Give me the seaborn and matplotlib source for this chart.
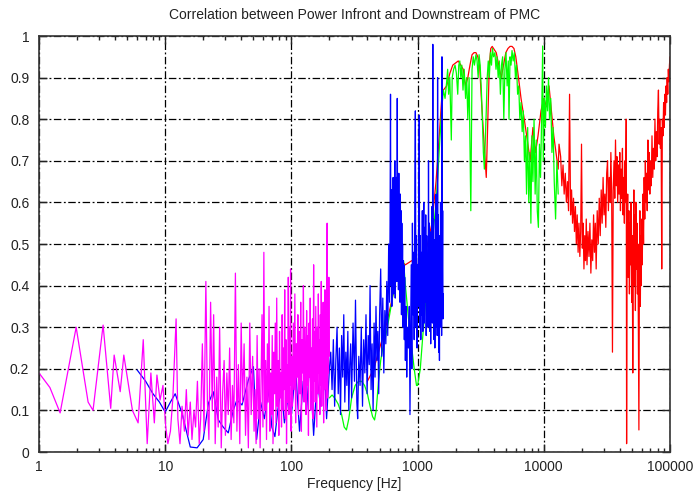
"""
Correlation between power in front of and downstream of the PMC,
gnuplot-like log-frequency plot redrawn with seaborn.
"""

import pandas as pd
import matplotlib.pyplot as plt
import matplotlib.ticker as mticker
import seaborn as sns

# ---- data (frequency in Hz, correlation) ----

magenta_f = [1.0, 1.22, 1.47, 1.97, 2.45, 2.68, 3.22, 3.7, 3.94, 4.4, 4.7, 5.5, 6.1, 6.7, 7.2, 7.7, 8.2, 8.6, 9.1, 9.6,
             10.1, 10.5, 11.0, 11.5, 12.2, 12.6, 13.1, 13.6, 14.2, 14.7, 15.2, 15.8, 16.3, 16.9, 17.4, 18.0, 18.6, 19.1,
             19.7, 20.3, 21.0, 21.6, 22.2, 22.9, 23.6, 24.2, 24.9, 25.6, 26.3, 27.0, 27.8, 28.5, 29.3, 30.0, 30.8, 31.6,
             32.4, 33.3, 34.1, 35.0, 36.0, 37.0, 38.0, 39.0, 40.0, 41.0, 42.2, 43.3, 44.4, 45.6, 46.8, 48.0, 49.3, 50.6,
             51.5, 52.5, 53.5, 54.5, 55.5, 56.5, 57.5, 58.5, 59.5, 60.5, 61.5, 62.5, 63.5, 64.5, 65.5, 66.5, 67.5, 68.5,
             69.5, 70.5, 71.5, 72.5, 73.5, 74.5, 75.5, 76.5, 77.5, 78.5, 79.5, 80.5, 81.5, 82.5, 83.5, 84.5, 85.5, 86.5,
             87.5, 88.5, 89.5, 90.5, 91.5, 92.5, 93.5, 94.5, 95.5, 96.5, 97.5, 98.5, 99.5,
             100.5, 102, 103.5, 105, 106.5, 108, 109.5, 111, 112.5, 114, 115.5, 117, 118.5, 120, 121.5, 123, 124.5, 126,
             127.5, 129, 130.5, 132, 133.5, 135, 136.5, 138, 139.5, 141, 142.5, 144, 145.5, 147, 148.5, 150, 151.5, 153,
             154.5, 156, 157.5, 159, 160.5, 162, 163.5, 165, 166.5, 168, 169.5, 171, 172.5, 174, 175.5, 177, 178.5, 180,
             181.5, 183, 184.5, 186, 187.5, 189, 190.5, 192, 193.5, 195, 196.5, 198, 199.5]
magenta_c = [0.19, 0.155, 0.094, 0.30, 0.12, 0.10, 0.305, 0.105, 0.233, 0.145, 0.233, 0.10, 0.07, 0.27, 0.02, 0.19, 0.07,
             0.185, 0.125, 0.16,
             0.06, 0.02, 0.05, 0.13, 0.32, 0.08, 0.02, 0.11, 0.05, 0.15, 0.04, 0.12, 0.03, 0.10, 0.06, 0.17, 0.02, 0.08,
             0.26, 0.05, 0.41, 0.12, 0.03, 0.36, 0.10, 0.33, 0.02, 0.18, 0.06, 0.30, 0.01, 0.14, 0.22, 0.04, 0.19, 0.09,
             0.25, 0.03, 0.16, 0.07, 0.43, 0.05, 0.21, 0.02, 0.31, 0.12, 0.26, 0.04, 0.18, 0.01, 0.31, 0.09, 0.23, 0.05,
             0.15, 0.02, 0.28, 0.08, 0.20, 0.01, 0.17, 0.33, 0.06, 0.48, 0.10, 0.22, 0.03, 0.26, 0.12, 0.35, 0.05, 0.19,
             0.09, 0.28, 0.02, 0.24, 0.14, 0.31, 0.07, 0.37, 0.11, 0.22, 0.04, 0.29, 0.13, 0.19, 0.06, 0.33, 0.10, 0.25,
             0.15, 0.39, 0.08, 0.27, 0.02, 0.21, 0.12, 0.42, 0.09, 0.30, 0.16, 0.44, 0.05,
             0.23, 0.11, 0.31, 0.15, 0.38, 0.07, 0.26, 0.18, 0.33, 0.09, 0.29, 0.14, 0.36, 0.05, 0.27, 0.19, 0.40, 0.12,
             0.30, 0.21, 0.09, 0.34, 0.16, 0.28, 0.04, 0.31, 0.18, 0.37, 0.10, 0.25, 0.15, 0.32, 0.08, 0.45, 0.17, 0.29,
             0.12, 0.35, 0.20, 0.06, 0.30, 0.14, 0.38, 0.19, 0.27, 0.09, 0.33, 0.16, 0.41, 0.11, 0.28, 0.21, 0.36, 0.07,
             0.30, 0.15, 0.39, 0.18, 0.26, 0.10, 0.34, 0.55, 0.13, 0.31, 0.19, 0.42, 0.23]

blue_f = [6.0, 7.0, 8.0, 9.0, 10.0, 11.0, 12.0, 13.6, 15.8, 17.9, 20.0, 22.0, 24.0, 26.4, 28.8, 31.6, 34.6, 37.0, 40.6,
          45.6, 50.0, 53.0, 57, 61, 66, 70, 74, 78, 83, 88, 94, 100, 108, 116, 124, 132, 140, 150, 160, 170, 180, 190,
          200, 205, 210, 215, 220, 225, 230, 235, 240, 245, 250, 255, 260, 265, 270, 275, 280, 285, 290, 295, 300, 308,
          316, 322, 330, 335, 342, 350, 358, 366, 374, 382, 390, 398, 406, 414, 420, 428, 436, 444, 452, 460, 468, 476,
          484, 492, 500, 510, 520, 530, 540, 550, 560, 570, 580, 590,
          600, 605, 610, 615, 620, 625, 630, 635, 640, 645, 650, 655, 660, 665, 670, 675, 680, 685, 690, 695,
          700, 705, 710, 715, 720, 725, 730, 735, 740, 745, 750, 755, 760, 765, 770, 775, 780, 785, 790, 795, 800,
          810, 820, 830, 845, 860, 870, 880, 890, 900, 910, 920, 930, 940, 950, 960, 970, 980, 990,
          1000, 1010, 1020, 1030, 1040, 1050, 1060, 1070, 1080, 1090, 1100, 1110, 1120, 1130, 1140, 1150, 1160, 1170,
          1180, 1190, 1200, 1210, 1220, 1230, 1240, 1250, 1260, 1270, 1280, 1290, 1300, 1310, 1320, 1330, 1340, 1350,
          1360, 1370, 1380, 1390, 1400, 1410, 1420, 1430, 1440, 1450, 1460, 1470, 1480, 1490, 1500, 1510, 1520, 1530,
          1540, 1550, 1560, 1570, 1580, 1590, 1600]
blue_c = [0.197, 0.17, 0.14, 0.12, 0.096, 0.12, 0.14, 0.093, 0.012, 0.01, 0.03, 0.117, 0.145, 0.077, 0.06, 0.046, 0.10,
          0.125, 0.113, 0.173, 0.205, 0.03, 0.12, 0.08, 0.15, 0.06, 0.037, 0.10, 0.16, 0.07, 0.13, 0.09, 0.20, 0.05,
          0.17, 0.10, 0.22, 0.04, 0.18, 0.11, 0.25, 0.08, 0.20,
          0.24, 0.15, 0.27, 0.11, 0.22, 0.30, 0.14, 0.25, 0.09, 0.28, 0.18, 0.33, 0.12, 0.24, 0.16, 0.29, 0.10, 0.21,
          0.26, 0.13, 0.31, 0.17, 0.365, 0.12, 0.08, 0.23, 0.16, 0.30, 0.11, 0.27, 0.19, 0.33, 0.14, 0.28, 0.21, 0.40,
          0.15, 0.26, 0.10, 0.31, 0.18, 0.35, 0.22, 0.29, 0.14, 0.33,
          0.44, 0.23, 0.37, 0.19, 0.34, 0.26, 0.41, 0.28, 0.50,
          0.36, 0.55, 0.86, 0.40, 0.63, 0.35, 0.58, 0.42, 0.66, 0.38, 0.60, 0.45, 0.70, 0.37, 0.62, 0.48, 0.66, 0.41,
          0.85, 0.46, 0.64, 0.39, 0.67, 0.43, 0.60, 0.36, 0.62, 0.44, 0.58, 0.33, 0.55, 0.40, 0.50, 0.30, 0.46, 0.34,
          0.45, 0.27, 0.42, 0.30, 0.22,
          0.35, 0.18, 0.30, 0.25, 0.35, 0.09, 0.28, 0.45, 0.20, 0.55, 0.33, 0.48, 0.27, 0.60, 0.82, 0.30, 0.52, 0.25,
          0.45, 0.35, 0.55, 0.81, 0.30, 0.52, 0.27, 0.48, 0.33, 0.58, 0.29, 0.50, 0.60, 0.31, 0.54, 0.36, 0.57, 0.28,
          0.52, 0.34, 0.47, 0.30, 0.70, 0.36, 0.55, 0.29, 0.50, 0.26, 0.53, 0.38, 0.59, 0.31, 0.98, 0.33, 0.56, 0.27,
          0.51, 0.25, 0.48, 0.36, 0.62, 0.30, 0.55, 0.28, 0.90, 0.40, 0.57, 0.24, 0.52, 0.22, 0.50, 0.35, 0.60, 0.30,
          0.56, 0.28, 0.95, 0.42, 0.58, 0.32, 0.38]

green_f = [200, 210, 220, 235, 250, 262, 273, 285, 300, 320, 340, 360, 380, 400, 420, 440, 456, 470, 490, 510, 530, 560,
           600, 640, 680, 720, 774, 800, 830, 860, 900, 940, 980, 1000, 1050, 1100, 1150, 1200, 1250, 1300, 1350, 1400,
           1450, 1500, 1550, 1600, 1650, 1700, 1730, 1760, 1800, 1850, 1880, 1930, 1980, 2030, 2080, 2120, 2160, 2200,
           2240, 2290, 2340, 2400, 2450, 2500, 2560, 2640, 2700, 2760, 2820, 2900, 2960, 3020, 3070, 3130, 3200, 3260,
           3320, 3380, 3440, 3500, 3560, 3630, 3700, 3780, 3850, 3920, 4000, 4100, 4180, 4260, 4350, 4440, 4530, 4620,
           4720, 4820, 4920, 5020, 5120, 5230, 5300, 5400, 5500, 5600, 5720, 5840, 5960, 6080, 6200, 6330, 6460, 6600,
           6740, 6880, 7020, 7160, 7300, 7450, 7600, 7750, 7900, 8050, 8200, 8370, 8540, 8710, 8880, 9060, 9240, 9420,
           9610, 9800, 9900, 10100, 10300, 10500, 10700, 10900, 11100, 11350, 11600, 11850, 12100, 12400, 12700, 13000]
green_c = [0.13, 0.137, 0.13, 0.115, 0.09, 0.06, 0.053, 0.08, 0.13, 0.16, 0.17, 0.17, 0.16, 0.14, 0.11, 0.085, 0.077,
           0.10, 0.17, 0.22, 0.25, 0.28, 0.33, 0.38, 0.42, 0.45, 0.46, 0.40, 0.35, 0.30, 0.25, 0.20, 0.16, 0.16, 0.20,
           0.28, 0.35, 0.40, 0.45, 0.50, 0.55, 0.60, 0.67, 0.75, 0.82, 0.87, 0.85, 0.89, 0.92, 0.86, 0.90, 0.75, 0.90,
           0.92, 0.93, 0.91, 0.86, 0.93, 0.94, 0.90, 0.93, 0.87, 0.92, 0.85, 0.90, 0.80, 0.90, 0.58, 0.92, 0.95, 0.93,
           0.955, 0.94, 0.90, 0.955, 0.93, 0.87, 0.80, 0.72, 0.68, 0.75, 0.82, 0.90, 0.94, 0.90, 0.96, 0.93, 0.97, 0.95,
           0.96, 0.92, 0.95, 0.90, 0.94, 0.86, 0.93, 0.95, 0.80, 0.92, 0.96, 0.88, 0.94, 0.80, 0.95, 0.93, 0.965, 0.94,
           0.96, 0.90, 0.93, 0.86, 0.88, 0.80, 0.84, 0.77, 0.82, 0.70, 0.76, 0.62, 0.78, 0.60, 0.72, 0.55, 0.76, 0.65,
           0.80, 0.62, 0.75, 0.58, 0.54, 0.74, 0.66, 0.80, 0.976, 0.70, 0.85, 0.78, 0.88, 0.82, 0.90, 0.80, 0.85, 0.72,
           0.78, 0.65, 0.56, 0.70, 0.62]

red_f = [400, 450, 500, 560, 620, 680, 740, 800, 900, 1000, 1100, 1200, 1300, 1400, 1500, 1560, 1600, 1700, 1800, 1900,
         2000, 2100, 2200, 2300, 2400, 2500, 2600, 2700, 2800, 2900, 3000, 3100, 3200, 3350, 3500, 3600, 3700, 3800,
         3900, 4000, 4200, 4400, 4600, 4800, 5000, 5200, 5400, 5600, 5800, 6000, 6300, 6600, 7000, 7400, 7800, 8200,
         8600, 9000, 9500, 10000, 10500, 11000, 11500, 12000, 12500, 13000,
         13200, 13600, 13900, 14200, 14500, 14800, 15100, 15400, 15700, 16000,
         16300, 16600, 16900, 17200, 17500, 17800, 18100, 18400, 18700, 19000,
         19300, 19600, 19900, 20200, 20500, 20800, 21100, 21400, 21700, 22000,
         22400, 22800, 23200, 23600, 24000, 24400, 24800, 25200, 25600, 26000,
         26500, 27000, 27500, 28000, 28500, 29000, 29500, 30000, 30500, 31000,
         31500, 32000, 32500, 33000, 33500, 34000, 34500, 35000, 35500, 36000,
         36500, 37000, 37500, 38000, 38500, 39000, 39500, 40000, 40500, 41000,
         41500, 42000, 42500, 43000, 43500, 44000, 44500, 45000, 45300, 45700,
         46200, 46700, 47200, 47700, 48200, 48700, 49200, 49700, 50200, 50700,
         51200, 51700, 52200, 52700, 53200, 53700, 54200, 54700, 55200, 55700,
         56200, 56700, 57200, 57700, 58200, 58700, 59200, 59700, 60300, 61000,
         61700, 62400, 63100, 63800, 64500, 65200, 66000, 66800, 67600, 68400,
         69200, 70000, 71000, 72000, 73000, 74000, 75000, 76000, 77000, 78000,
         79000, 80000, 81000, 82000, 83000, 84000, 85000, 86000, 87000, 88000,
         89000, 90000, 91000, 92000, 93000, 94000, 95000, 96000, 97000, 98000, 99000, 100000]
red_c = [0.17, 0.20, 0.25, 0.30, 0.36, 0.42, 0.46, 0.45, 0.46, 0.45, 0.46, 0.50, 0.55, 0.65, 0.78, 0.86, 0.87, 0.88,
         0.91, 0.93, 0.935, 0.94, 0.93, 0.92, 0.88, 0.90, 0.93, 0.955, 0.96, 0.96, 0.95, 0.93, 0.85, 0.75, 0.66, 0.80,
         0.93, 0.97, 0.975, 0.97, 0.96, 0.93, 0.90, 0.93, 0.96, 0.97, 0.975, 0.975, 0.97, 0.95, 0.90, 0.85, 0.80, 0.75,
         0.70, 0.78, 0.72, 0.76, 0.82, 0.85, 0.83, 0.88, 0.82, 0.76, 0.72, 0.68,
         0.74, 0.71, 0.64, 0.69, 0.62, 0.67, 0.60, 0.65, 0.58, 0.86,
         0.57, 0.63, 0.55, 0.61, 0.53, 0.59, 0.50, 0.57, 0.48, 0.55,
         0.47, 0.53, 0.74, 0.49, 0.55, 0.44, 0.52, 0.46, 0.56, 0.45,
         0.53, 0.47, 0.55, 0.43, 0.51, 0.46, 0.57, 0.48, 0.55, 0.44,
         0.58, 0.50, 0.61, 0.52, 0.63, 0.55, 0.66, 0.57, 0.62, 0.54,
         0.67, 0.70, 0.58, 0.66, 0.60, 0.72, 0.62, 0.24, 0.63, 0.70,
         0.61, 0.75, 0.64, 0.71, 0.60, 0.69, 0.62, 0.72, 0.58, 0.68,
         0.61, 0.73, 0.57, 0.66, 0.55, 0.70, 0.60, 0.80, 0.02, 0.50,
         0.62, 0.42, 0.58, 0.38, 0.55, 0.45, 0.60, 0.36, 0.52, 0.19,
         0.48, 0.63, 0.40, 0.57, 0.34, 0.60, 0.44, 0.55, 0.38, 0.50,
         0.28, 0.053, 0.42, 0.58, 0.35, 0.52, 0.40, 0.56, 0.45, 0.62,
         0.50, 0.66, 0.56, 0.70, 0.60, 0.67, 0.58, 0.75, 0.63, 0.72,
         0.62, 0.70, 0.64, 0.76, 0.66, 0.73, 0.68, 0.80, 0.70, 0.77,
         0.71, 0.82, 0.87, 0.74, 0.80, 0.73, 0.78, 0.44, 0.80, 0.76,
         0.84, 0.78, 0.86, 0.81, 0.88, 0.84, 0.90, 0.86, 0.92, 0.89, 0.93, 0.95]

x_ticks = [1, 10, 100, 1000, 10000, 100000]
x_tick_labels = ["1", "10", "100", "1000", "10000", "100000"]
y_ticks = [0, 0.1, 0.2, 0.3, 0.4, 0.5, 0.6, 0.7, 0.8, 0.9, 1]
y_tick_labels = ["0", "0.1", "0.2", "0.3", "0.4", "0.5", "0.6", "0.7", "0.8", "0.9", "1"]


def make_df(freq, corr):
    return pd.DataFrame({"freq": freq, "corr": corr})


def plot_correlation():
    sns.set_style("ticks")
    plt.rcParams['font.family'] = ['Liberation Sans', 'DejaVu Sans']

    fig = plt.figure(figsize=(6.93, 4.95), dpi=100)
    ax = fig.add_axes([39 / 693, 1 - 452 / 495, 631 / 693, 416 / 495])

    # gnuplot draws in order, later curves on top
    series = [(red_f, red_c, "#ff0000"),
              (green_f, green_c, "#00ff00"),
              (blue_f, blue_c, "#0000ff"),
              (magenta_f, magenta_c, "#ff00ff")]
    for freq, corr, color in series:
        sns.lineplot(data=make_df(freq, corr), x="freq", y="corr", color=color,
                     linewidth=0.9, estimator=None, sort=False, ax=ax)

    ax.set_xscale("log")
    ax.set_xlim(1, 100000)
    ax.set_ylim(0, 1)

    ax.xaxis.set_major_locator(mticker.FixedLocator(x_ticks))
    ax.xaxis.set_major_formatter(mticker.FixedFormatter(x_tick_labels))
    ax.xaxis.set_minor_locator(mticker.LogLocator(base=10, subs=range(2, 10)))
    ax.xaxis.set_minor_formatter(mticker.NullFormatter())
    ax.set_yticks(y_ticks)
    ax.set_yticklabels(y_tick_labels)

    ax.tick_params(axis="both", which="major", direction="in", length=6, width=1,
                   top=True, right=True, labelsize=10, colors="#222222")
    ax.tick_params(axis="x", which="major", pad=6)
    ax.tick_params(axis="y", which="major", pad=7)
    ax.tick_params(axis="x", which="minor", direction="in", length=3, width=1, top=True)
    for spine in ax.spines.values():
        spine.set_linewidth(1.2)
        spine.set_color("#333333")

    ax.grid(True, which="major", color="black", linewidth=0.9, linestyle=(0, (6, 2, 1.5, 2)))

    ax.set_xlabel("Frequency [Hz]", fontsize=10, color="#222222", labelpad=2)
    ax.set_ylabel("")
    ax.set_title("Correlation between Power Infront and Downstream of PMC", fontsize=10,
                 color="#222222", pad=12)

    fig.savefig("out.png", dpi=100)


if __name__ == "__main__":
    plot_correlation()
